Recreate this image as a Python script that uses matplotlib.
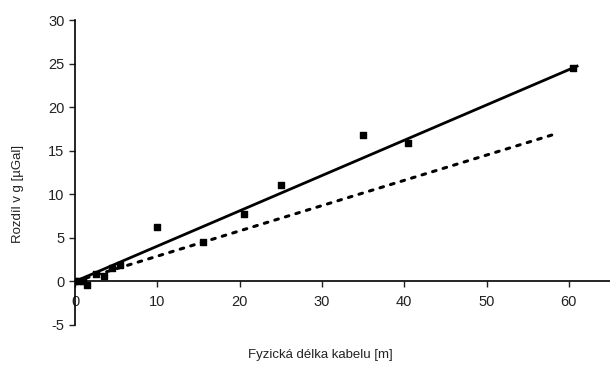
import matplotlib
matplotlib.use("Agg")
import matplotlib.pyplot as plt
import numpy as np

plt.rcParams['font.family'] = ['Liberation Sans', 'DejaVu Sans']
plt.rcParams['axes.unicode_minus'] = False

# data
length_m = [0, 0.5, 1, 1.5, 2.5, 3.5, 4.5, 5.5, 10, 15.5, 20.5, 25, 35, 40.5, 60.5]
diff_ugal = [0, 0.1, 0, -0.4, 0.8, 0.6, 1.5, 1.9, 6.2, 4.5, 7.7, 11.1, 16.8, 15.9, 24.5]
fit_x = [0, 61]
fit_slope = 0.405
theory_x = [0, 58.5]
theory_slope = 0.29
xticks = [0, 10, 20, 30, 40, 50, 60]
yticks = [-5, 0, 5, 10, 15, 20, 25, 30]

fig = plt.figure(figsize=(6.1, 3.65), dpi=100)
ax = fig.add_axes([0.123, 0.1096, 0.877, 0.8356])

ax.plot(fit_x, [fit_slope * v for v in fit_x], color='black', lw=2.0, zorder=2)
ax.plot(theory_x, [theory_slope * v for v in theory_x], color='black', lw=2.2,
        linestyle=(0, (1.2, 2.4)), dash_capstyle='round', zorder=2)
ax.scatter(length_m, diff_ugal, marker='s', s=24, color='black', zorder=3)

ax.set_xlim(0, 65)
ax.set_ylim(-5, 30)
ax.set_xticks(xticks)
ax.set_yticks(yticks)
ax.spines['top'].set_visible(False)
ax.spines['right'].set_visible(False)
ax.spines['bottom'].set_position(('data', 0))
ax.spines['left'].set_linewidth(1.2)
ax.spines['bottom'].set_linewidth(1.2)
ax.tick_params(axis='both', direction='out', length=4, width=1, labelsize=10.5, colors='#222222')
ax.tick_params(axis='x', pad=6)
ax.set_xticklabels([str(t) for t in xticks])

fig.text(0.525, 0.027, 'Fyzická délka kabelu [m]', ha='center', va='center', fontsize=9.5, color='#222222')
fig.text(0.03, 0.47, 'Rozdíl v g [µGal]', ha='center', va='center', rotation=90, fontsize=9.5, color='#222222')

fig.savefig('out.png', dpi=100)
